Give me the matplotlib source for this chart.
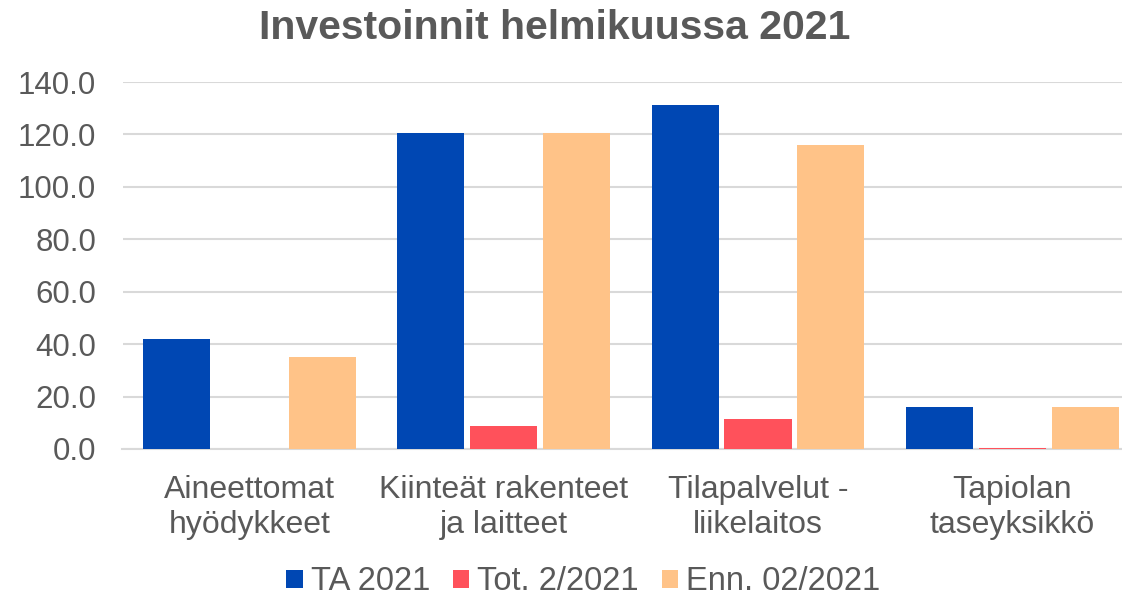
import matplotlib.pyplot as plt
import matplotlib.ticker as ticker
import numpy as np

plt.rcParams['font.family'] = ['Liberation Sans', 'DejaVu Sans']

categories = ['Aineettomat\nhyödykkeet', 'Kiinteät rakenteet\nja laitteet',
              'Tilapalvelut -\nliikelaitos', 'Tapiolan\ntaseyksikkö']
series_names = ['TA 2021', 'Tot. 2/2021', 'Enn. 02/2021']
ta_2021 = [41.8, 120.5, 131.2, 16.0]
tot_2021 = [0.0, 8.7, 11.4, 0.3]
enn_2021 = [35.0, 120.5, 116.0, 16.0]
colors = ['#0047B3', '#FF515B', '#FFC388']

text_col = '#595959'
grid_col = '#D9D9D9'

fig = plt.figure(figsize=(11.22, 6.01), dpi=100)
ax = fig.add_axes([122.5 / 1122, 1 - 449 / 601, 1 - 122.5 / 1122, (449 - 82) / 601])

x = np.arange(len(categories))
width = 0.2636
step = 0.287
for i, (vals, name) in enumerate(zip([ta_2021, tot_2021, enn_2021], series_names)):
    ax.bar(x + (i - 1) * step, vals, width, color=colors[i], label=name, zorder=3)

ax.set_xlim(-0.5, -0.5 + 999.5 / 254.2)
ax.set_ylim(0, 140)
ax.yaxis.set_major_locator(ticker.MultipleLocator(20))
ax.yaxis.set_major_formatter(ticker.FormatStrFormatter('%.1f'))
ax.grid(axis='y', color=grid_col, linewidth=1.5, zorder=0)
ax.set_axisbelow(True)

for s in ['top', 'right', 'left']:
    ax.spines[s].set_visible(False)
ax.spines['bottom'].set_color(grid_col)
ax.spines['bottom'].set_linewidth(1.5)

ax.set_xticks(x)
ax.set_xticklabels(categories, linespacing=1.22)
ax.tick_params(axis='both', length=0, colors=text_col)
ax.tick_params(axis='y', pad=19, labelsize=22.5)
ax.tick_params(axis='x', pad=19, labelsize=23)

fig.suptitle('Investoinnit helmikuussa 2021', x=0.4947, y=0.985, fontsize=29.5,
             fontweight='bold', color=text_col)

leg = fig.legend(loc='lower center', bbox_to_anchor=(0.52, -0.043), ncol=3, frameon=False,
                 fontsize=23.5, handlelength=0.5, handleheight=0.5, handletextpad=0.25,
                 columnspacing=0.7)
for t in leg.get_texts():
    t.set_color(text_col)

plt.savefig('out.png', dpi=100)
